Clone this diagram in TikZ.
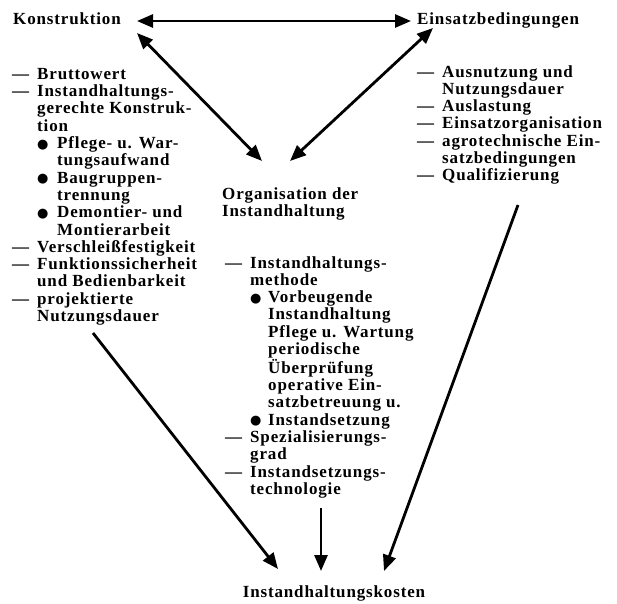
\documentclass[tikz,border=0pt]{standalone}
\usepackage{fontspec}
\setmainfont{Liberation Serif}[LetterSpace=5]
\newfontfamily\symf{DejaVu Sans}
\usetikzlibrary{arrows.meta}
\newcommand\dsh{\makebox[25pt][l]{—}}
\newcommand\ind{\hspace*{25pt}}
\newcommand\blackdot{\raisebox{0.5pt}{\symf\fontsize{13}{13}\selectfont ●}}
\newcommand\bul{\makebox[20pt][l]{\blackdot}}
\newcommand\bind{\hspace*{20pt}}
\newcommand\mbul{\makebox[18pt][l]{\blackdot}}
\newcommand\mind{\hspace*{18pt}}
\tikzset{
  lbl/.style={font=\fontsize{17}{17.3}\selectfont\bfseries, inner sep=0pt},
  lst/.style={lbl, anchor=north west, align=left},
  arr/.style={line width=2.8pt, -{Triangle[length=16pt,width=13pt]}},
  darr/.style={line width=2.8pt, {Triangle[length=16pt,width=13pt]}-{Triangle[length=16pt,width=13pt]}},
}
\begin{document}
\begin{tikzpicture}[x=1pt,y=-1pt]
\useasboundingbox (0,0) rectangle (617,603);
% main labels
\node[lbl, anchor=base west] (k) at (13,24.5) {Konstruktion};
\node[lbl, anchor=base west] (e) at (417,24.5) {Einsatzbedingungen};
\node[lst] (o) at (222,187) {Organisation der\\Instandhaltung};
\node[lbl, anchor=base] (c) at (334,597) {Instandhaltungskosten};
% lists
\node[lst] (kl) at (12,68) {%
\dsh Bruttowert\\
\dsh Instandhaltungs-\\
\ind gerechte Konstruk-\\
\ind tion\\
\ind\bul Pflege- u. War-\\
\ind\bind tungsaufwand\\
\ind\bul Baugruppen-\\
\ind\bind trennung\\
\ind\bul Demontier- und\\
\ind\bind Montierarbeit\\
\dsh Verschleißfestigkeit\\
\dsh Funktionssicherheit\\
\ind und Bedienbarkeit\\
\dsh projektierte\\
\ind Nutzungsdauer};
\node[lst] (el) at (417,65) {%
\dsh Ausnutzung und\\
\ind Nutzungsdauer\\
\dsh Auslastung\\
\dsh Einsatzorganisation\\
\dsh agrotechnische Ein-\\
\ind satzbedingungen\\
\dsh Qualifizierung};
\node[lst] (ol) at (225,256) {%
\dsh Instandhaltungs-\\
\ind methode\\
\ind\mbul Vorbeugende\\
\ind\mind Instandhaltung\\
\ind\mind Pflege u. Wartung\\
\ind\mind periodische\\
\ind\mind Überprüfung\\
\ind\mind operative Ein-\\
\ind\mind satzbetreuung u.\\
\ind\mbul Instandsetzung\\
\dsh Spezialisierungs-\\
\ind grad\\
\dsh Instandsetzungs-\\
\ind technologie};
% connector end points
\coordinate (hL) at (137,21);
\coordinate (hR) at (411,21);
\coordinate (dK) at (137,33);
\coordinate (dKO) at (262,161);
\coordinate (dE) at (433,28);
\coordinate (dEO) at (290,161);
\coordinate (lS) at (93,333);
\coordinate (lT) at (278,569);
\coordinate (mS) at (321,508);
\coordinate (mT) at (321,571);
\coordinate (rS) at (518,205);
\coordinate (rT) at (384,571);
% connectors
\draw[darr] (hL) -- (hR);
\draw[darr] (dK) -- (dKO);
\draw[darr] (dE) -- (dEO);
\draw[arr] (lS) -- (lT);
\draw[arr] (mS) -- (mT);
\draw[arr] (rS) -- (rT);
\end{tikzpicture}
\end{document}
